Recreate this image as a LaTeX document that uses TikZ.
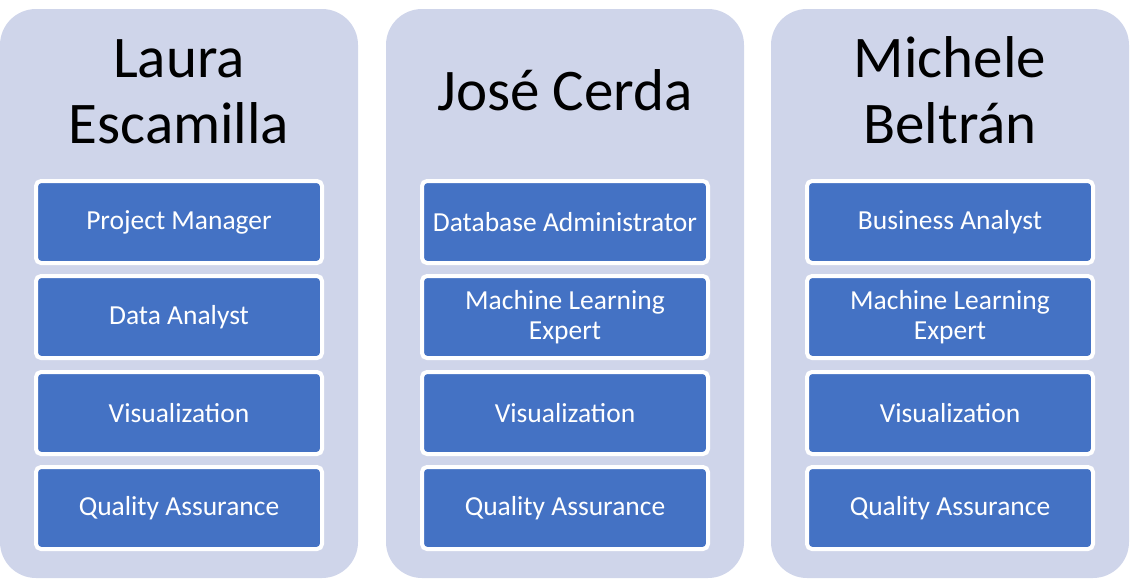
\documentclass[tikz,border=0pt]{standalone}
\usepackage{fontspec}
\setmainfont{Carlito}
\usepackage{tikz}
\definecolor{panelbg}{HTML}{CFD5EA}
\definecolor{roleblue}{HTML}{4472C4}
\tikzset{
  panel/.style={fill=panelbg, rounded corners=36pt, minimum width=358pt, minimum height=569pt, inner sep=0pt},
  rolebox/.style={fill=roleblue, draw=white, line width=4pt, rounded corners=5pt, minimum width=286pt, minimum height=82pt, inner sep=0pt, text=white, align=center, font=\fontsize{27.5}{30}\selectfont},
  personname/.style={align=center, anchor=base, font=\fontsize{59}{66}\selectfont}
}

\begin{document}
\begin{tikzpicture}[x=1pt,y=-1pt]
\useasboundingbox (0,0) rectangle (1136,582);

\node [panel] (laura) at (179,293.5) {};
\node [panel] (jose) at (565,293.5) {};
\node [panel] (michele) at (950,293.5) {};

\node [personname] (lauraname) at (179,143) {Laura\\Escamilla};
\node [personname] (josename) at (565,110) {José Cerda};
\node [personname] (michelename) at (950,143) {Michele\\Beltrán};

\node [rolebox] (laura1) at (179,222) {Project Manager};
\node [rolebox] (laura2) at (179,317) {Data Analyst};
\node [rolebox] (laura3) at (179,413) {Visualization};
\node [rolebox] (laura4) at (179,508) {Quality Assurance};

\node [rolebox] (jose1) at (565,222) {Database Administrator};
\node [rolebox] (jose2) at (565,317) {Machine Learning\\Expert};
\node [rolebox] (jose3) at (565,413) {Visualization};
\node [rolebox] (jose4) at (565,508) {Quality Assurance};

\node [rolebox] (michele1) at (950,222) {Business Analyst};
\node [rolebox] (michele2) at (950,317) {Machine Learning\\Expert};
\node [rolebox] (michele3) at (950,413) {Visualization};
\node [rolebox] (michele4) at (950,508) {Quality Assurance};
\end{tikzpicture}
\end{document}
